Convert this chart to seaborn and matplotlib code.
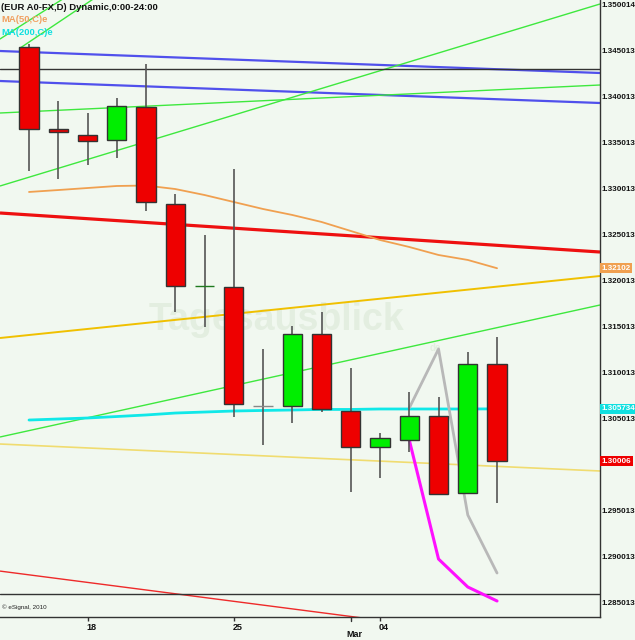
import numpy as np
import pandas as pd
import matplotlib
matplotlib.use("Agg")
import matplotlib.pyplot as plt
import seaborn as sns
from matplotlib.transforms import ScaledTranslation

# ---------------- data ----------------
dates = ["Feb 16", "Feb 17", "Feb 18", "Feb 19", "Feb 22", "Feb 23", "Feb 24", "Feb 25",
         "Feb 26", "Mar 01", "Mar 02", "Mar 03", "Mar 04", "Mar 05", "Mar 08", "Mar 09", "Mar 10"]
opens  = [1.34507, 1.33616, 1.33550, 1.33496, 1.33855, 1.32800, 1.31905, 1.31898, 1.30605,
          1.30605, 1.31387, 1.30550, 1.30159, 1.30235, 1.30496, 1.29659, 1.31061]
highs  = [1.34539, 1.33920, 1.33789, 1.33952, 1.34322, 1.32909, 1.32463, 1.33181, 1.31224,
          1.31474, 1.31626, 1.31018, 1.30311, 1.30757, 1.30702, 1.31192, 1.31355]
lows   = [1.33159, 1.33072, 1.33224, 1.33300, 1.32724, 1.31626, 1.31463, 1.30485, 1.30181,
          1.30420, 1.30539, 1.29670, 1.29822, 1.30105, 1.29648, 1.29659, 1.29550]
closes = [1.33616, 1.33583, 1.33485, 1.33866, 1.32822, 1.31909, 1.31913, 1.30626, 1.30605,
          1.31387, 1.30572, 1.30159, 1.30257, 1.30496, 1.29648, 1.31061, 1.30006]

ma50  = [1.32931, 1.32952, 1.32974, 1.32996, 1.33001, 1.32963, 1.32898, 1.32822, 1.32746,
         1.32681, 1.32605, 1.32507, 1.32409, 1.32333, 1.32246, 1.32192, 1.32102]
ma200 = [1.30452, 1.30463, 1.30474, 1.30490, 1.30507, 1.30528, 1.30539, 1.30550, 1.30556,
         1.30561, 1.30567, 1.30567, 1.30572, 1.30572, 1.30572, 1.30572, 1.305734]

# projection lines (start at Mar 05)
proj_gray_idx = [13, 14, 15, 16]
proj_gray     = [1.30583, 1.31224, 1.29420, 1.28789]
proj_mag_idx  = [13, 14, 15, 16]
proj_mag      = [1.30235, 1.28941, 1.28637, 1.28485]

# trend lines: price at left edge and at right edge of the chart
trend_names = ["blue_up", "blue_low", "green_slow", "green_steep", "green_low",
               "red_thick", "gold", "yellow", "red_thin"]
trend_left  = [1.344633, 1.341372, 1.337894, 1.329959, 1.302675, 1.327024, 1.313436, 1.301914, 1.288100]
trend_right = [1.342242, 1.338981, 1.340937, 1.349742, 1.317023, 1.322784, 1.320177, 1.298980, 1.279664]
hlines = [1.342677, 1.285609]

ytick_vals = [1.285013 + 0.005 * k for k in range(14)]
ytick_labels = ["1.285013", "1.290013", "1.295013", "", "1.305013", "1.310013", "1.315013",
                "1.320013", "1.325013", "1.330013", "1.335013", "1.340013", "1.345013", "1.350014"]
xtick_idx = [2, 7, 12]
xtick_labels = ["18", "25", "04"]
month_idx = 11
month_label = "Mar"

# ---------------- style ----------------
BG = "#f1f8f0"
sns.set_theme(style="white", rc={"axes.facecolor": BG, "figure.facecolor": BG})
plt.rcParams["font.family"] = ["Liberation Sans", "DejaVu Sans"]
FONT = ["Liberation Sans", "DejaVu Sans"]
TICK_FS = 5.8

fig = plt.figure(figsize=(6.35, 6.4), dpi=100)
ax = fig.add_axes([0, 23 / 640, 600 / 635, 617 / 640])

x_left, x_right = -0.9915, 19.52
ax.set_xlim(x_left, x_right)
ax.set_ylim(1.283109, 1.350177)

# trend lines
tcolors = {"blue_up": "#5050ec", "blue_low": "#5050ec", "green_slow": "#3ee83e",
           "green_steep": "#3ee83e", "green_low": "#3ee83e", "red_thick": "#ee1010",
           "gold": "#f0c000", "yellow": "#f0dc70", "red_thin": "#ee2a2a"}
twidth = {"blue_up": 1.6, "blue_low": 1.6, "green_slow": 1.0, "green_steep": 1.0, "green_low": 1.0,
          "red_thick": 2.3, "gold": 1.4, "yellow": 1.2, "red_thin": 1.0}
for n, l, r in zip(trend_names, trend_left, trend_right):
    ax.plot([x_left, x_right], [l, r], color=tcolors[n], lw=twidth[n], zorder=2,
            solid_capstyle="butt")

# top-left green lines (partial)
ax.plot([x_left, 2.0], [1.34594, 1.35200], color="#3ee83e", lw=1.0, zorder=2)
ax.plot([-0.30, 3.0], [1.34496, 1.35200], color="#3ee83e", lw=1.0, zorder=2)

for h in hlines:
    ax.axhline(h, color="#333333", lw=1.0, zorder=2)

# moving averages / projections
ma_df = pd.DataFrame({"i": np.arange(len(ma50)), "ma50": ma50, "ma200": ma200})
sns.lineplot(data=ma_df, x="i", y="ma50", ax=ax, color="#f0a050", lw=1.3, zorder=3)
sns.lineplot(data=ma_df, x="i", y="ma200", ax=ax, color="#10e8e8", lw=2.0, zorder=3)
sns.lineplot(x=proj_gray_idx, y=proj_gray, ax=ax, color="#b8b8b8", lw=2.0, zorder=3)
sns.lineplot(x=proj_mag_idx, y=proj_mag, ax=ax, color="#ff10ff", lw=2.2, zorder=3)

# watermark
ax.text(8.45, 1.3154, "Tagesausblick", fontsize=27, fontweight="bold", color="#e3eee0",
        ha="center", va="center", zorder=1)
ax.text(13.9, 1.3123, "de", fontsize=7, fontweight="bold", color="#e3eee0",
        ha="center", va="center", zorder=1)

# candles
idx = np.arange(len(opens))
o = np.array(opens); c = np.array(closes)
bottoms = np.minimum(o, c)
heights = np.maximum(np.abs(c - o), 0.00003)
face = ["#00ee00" if cc >= oo else "#ee0000" for oo, cc in zip(opens, closes)]
edge = ["#333333"] * len(opens)
edge[6] = "#1f7a1f"; face[6] = "#1f7a1f"
edge[8] = "#888888"; face[8] = "#888888"
ax.vlines(idx, lows, highs, color="#555555", lw=1.2, zorder=4)
ax.bar(idx, heights, bottom=bottoms, width=0.66, color=face, edgecolor=edge, lw=1.0, zorder=5)

# axes decoration
for s in ["top", "left"]:
    ax.spines[s].set_visible(False)
for s in ["right", "bottom"]:
    ax.spines[s].set_color("#333333")
    ax.spines[s].set_linewidth(1.0)

ax.yaxis.tick_right()
ax.set_yticks(ytick_vals)
ax.set_yticklabels(ytick_labels, fontsize=TICK_FS, fontweight="bold", family=FONT, color="#111111")
ax.tick_params(axis="y", length=0, pad=0.8)
for lab in ax.get_yticklabels():
    lab.set_transform(lab.get_transform() + ScaledTranslation(0, -3 / 100, fig.dpi_scale_trans))

ax.set_xticks(xtick_idx)
ax.set_xticklabels(xtick_labels, fontsize=6.5, fontweight="bold", family=FONT, color="#111111")
ax.tick_params(axis="x", length=3, width=1, color="#333333", pad=1, bottom=True)
for lab in ax.get_xticklabels():
    lab.set_transform(lab.get_transform() + ScaledTranslation(4 / 100, 0, fig.dpi_scale_trans))
ax.set_xlabel(""); ax.set_ylabel("")

# month label with its own tick
ax.plot([month_idx, month_idx], [0, -0.006], transform=ax.get_xaxis_transform(),
        color="#333333", lw=1, clip_on=False)
ax.text(month_idx + 0.14, -0.028, month_label, transform=ax.get_xaxis_transform(),
        ha="center", va="center", fontsize=6.5, fontweight="bold", family=FONT, color="#111111")

# value tags on the right
def tag(val, txt, col):
    ax.annotate(txt, xy=(1.0, val), xycoords=("axes fraction", "data"),
                xytext=(1.0, 0), textcoords="offset points", ha="left", va="center",
                fontsize=TICK_FS, fontweight="bold", family=FONT, color="white", zorder=10,
                annotation_clip=False,
                bbox=dict(boxstyle="square,pad=0.2", fc=col, ec="none"))

tag(ma50[-1], "1.32102", "#f0a050")
tag(ma200[-1], "1.305734", "#10e0e0")
tag(closes[-1], "1.30006", "#ee0000")

# header texts
ax.text(0.002, 0.995, "(EUR A0-FX,D) Dynamic,0:00-24:00", transform=ax.transAxes,
        ha="left", va="top", fontsize=6.8, fontweight="bold", family=FONT, color="#111111", zorder=10)
ax.text(0.002, 0.975, "MA(50,C)e", transform=ax.transAxes, ha="left", va="top",
        fontsize=6.8, fontweight="bold", family=FONT, color="#f0a060", zorder=10)
ax.text(0.002, 0.954, "MA(200,C)e", transform=ax.transAxes, ha="left", va="top",
        fontsize=6.8, fontweight="bold", family=FONT, color="#10e0e0", zorder=10)
ax.text(0.004, 0.012, "\u00a9 eSignal, 2010", transform=ax.transAxes, ha="left", va="bottom",
        fontsize=4.5, color="#222222", zorder=10)

fig.savefig("out.png", dpi=100, facecolor=BG)
